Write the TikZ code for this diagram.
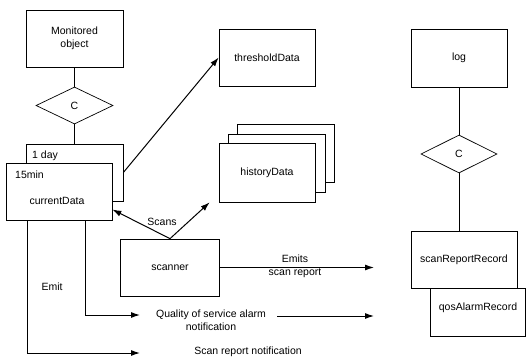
\documentclass[tikz,border=0pt]{standalone}
\usepackage{fontspec}
\setmainfont{Liberation Sans}
\usepackage{tikz}
\usetikzlibrary{shapes.geometric,arrows.meta}

\tikzset{
  box/.style={draw, line width=0.7pt, fill=white, minimum width=97pt, minimum height=57pt, align=center},
  rel/.style={draw, line width=0.7pt, diamond, fill=white, inner sep=0pt, minimum width=77pt, minimum height=37pt},
  flow/.style={-{Latex[length=9pt,width=6pt]}, line width=1pt},
  lbl/.style={align=center, inner sep=1pt}
}

\begin{document}
\begin{tikzpicture}[x=1pt, y=-1pt, font=\fontsize{10.5}{12.5}\selectfont]

\useasboundingbox (0,0) rectangle (526,361);

% the monitored object and its containment
\node [box] (mon) at (74.5,38.5) {Monitored\\object};
\node [rel] (cmon) at (74.5,105.5) {C};
\node [box] (day) at (74.5,172.5) {};
\node [lbl, anchor=west] (dayTxt) at (31,156) {1 day};
\node [box, minimum width=106pt] (cur) at (59,191.5) {};
\node [lbl] (curTxt) at (57,201) {currentData};
\node [lbl, anchor=west] (minTxt) at (14,175) {15min};
\draw [line width=0.7pt] (mon.south) -- (cmon.north);
\draw [line width=0.7pt] (cmon.south) -- (day.north);

% the data objects
\node [box, minimum width=96pt] (thr) at (267,57.5) {thresholdData};
\node [box, minimum width=97pt, minimum height=58pt] (histC) at (285.5,153) {};
\node [box, minimum width=97pt, minimum height=58pt] (histB) at (276.5,163) {};
\node [box, minimum width=96pt, minimum height=59pt] (histA) at (267,172.5) {historyData};
\node [box, minimum width=99pt] (scan) at (170,267.5) {scanner};

% the log
\node [box, minimum width=96pt, minimum height=58pt] (log) at (459,58) {log};
\node [rel, minimum width=76pt, minimum height=38pt] (clog) at (459,154) {C};
\node [box, minimum width=95pt, minimum height=48pt] (qos) at (477.5,312) {};
\node [lbl] (qosTxt) at (478,308) {qosAlarmRecord};
\node [box, minimum width=106pt] (srr) at (464,259.5) {scanReportRecord};
\draw [line width=0.7pt] (log.south) -- (clog.north);
\draw [line width=0.7pt] (clog.south) -- (clog.south |- srr.north);

% the arrows
\coordinate (emitEnd) at (374,267.5);
\coordinate (qosA) at (140,315);
\coordinate (qosB) at (277,316);
\coordinate (qosC) at (374,316);
\coordinate (srA) at (140,353);
\draw [flow] (day.east) -- (thr.west);
\draw [flow] (scan.north) -- ([yshift=-18pt]cur.east);
\draw [flow] (scan.north) -- ([xshift=-9pt]histA.south west);
\draw [flow] (scan.east) -- (emitEnd);
\draw [flow] ([xshift=26pt]cur.south) |- (qosA);
\draw [flow] (qosB) -- (qosC);
\draw [flow] ([xshift=-32pt]cur.south) |- (srA);

% the labels
\node [lbl] (scansTxt) at (162,222) {Scans};
\node [lbl] (emitTxt) at (52,287) {Emit};
\node [lbl] (emitsA) at (295,259) {Emits};
\node [lbl] (emitsB) at (295,273) {scan report};
\node [lbl] (qosNote) at (211,320) {Quality of service alarm\\notification};
\node [lbl] (srNote) at (248,352) {Scan report notification};

\end{tikzpicture}
\end{document}
